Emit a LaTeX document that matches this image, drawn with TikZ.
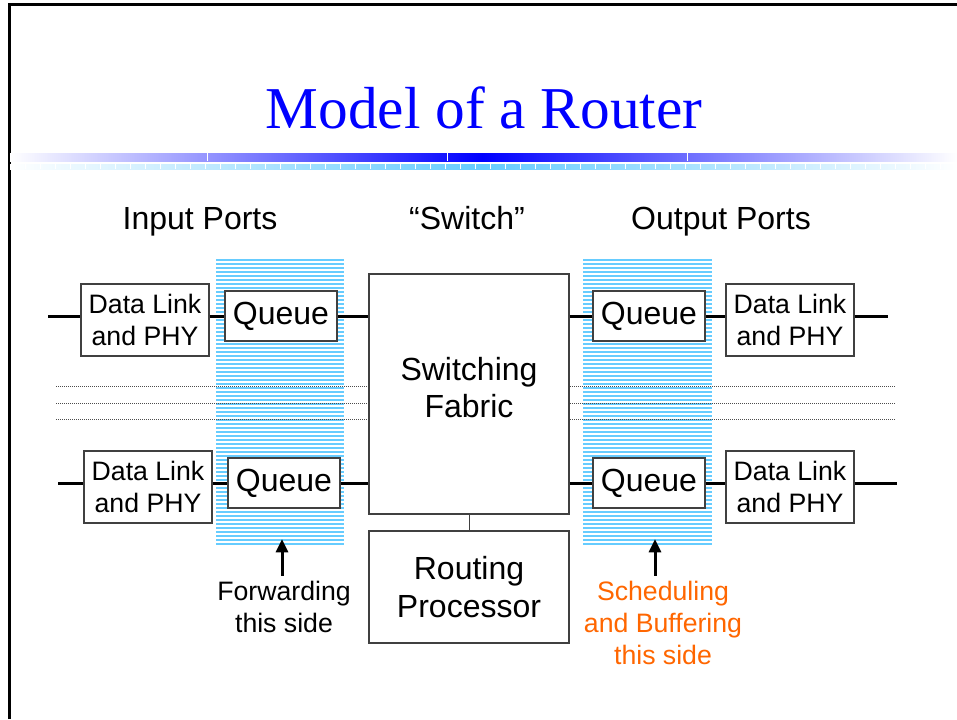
\documentclass[tikz,border=0pt]{standalone}
\usepackage{fontspec}
\setmainfont{Liberation Sans}
\newfontfamily\titlefont{Liberation Serif}
\usetikzlibrary{arrows.meta}
\definecolor{titleblue}{RGB}{0,0,255}
\definecolor{stripeblue}{RGB}{102,204,255}
\definecolor{noteorange}{RGB}{255,102,0}

\tikzset{
  box/.style={draw=black!75, line width=1.1pt, fill=white, inner sep=0pt},
  linkbox/.style={box, minimum width=96pt, minimum height=54pt, align=center,
    font=\fontsize{20}{24}\selectfont},
  queuebox/.style={box, minimum width=84pt, minimum height=37.5pt,
    font=\fontsize{24}{28}\selectfont},
  bigbox/.style={box, minimum width=150pt, align=center,
    font=\fontsize{24}{28}\selectfont},
  wire/.style={line width=2.25pt},
  header/.style={anchor=base, font=\fontsize{24}{28}\selectfont},
  note/.style={align=center, font=\fontsize{20}{24}\selectfont},
  stripe/.style={stripeblue, line width=0.9pt},
  uparrow/.style={line width=2.25pt, -{Triangle[width=9pt,length=10pt]}}
}

\begin{document}
\begin{tikzpicture}[x=0.75pt, y=-0.75pt]
\useasboundingbox (0,0) rectangle (957,719);

% slide frame
\draw[line width=2.25pt] (9,719) -- (9,4) -- (957,4);

% title and the bars under it
\node[anchor=base, titleblue, font=\titlefont\fontsize{44.5}{50}\selectfont] (title) at (484,128) {Model of a Router};
\shade[left color=white, right color=titleblue] (10,153) rectangle (482,161);
\shade[left color=titleblue, right color=white] (482,153) rectangle (957,161);
\foreach \x in {207,447,687}
  \draw[white, line width=0.6pt] (\x,153) -- (\x,161);
\shade[left color=white, right color=stripeblue] (10,164) rectangle (482,169);
\shade[left color=stripeblue, right color=white] (482,164) rectangle (957,169);
\foreach \x in {25,40,...,950}
  \draw[white, line width=0.4pt] (\x,164) -- (\x,169);

% column headers
\node[header] (inhead) at (200,229) {Input Ports};
\node[header] (swhead) at (467,229) {``Switch''};
\node[header] (outhead) at (721,229) {Output Ports};

% striped queue areas
\foreach \y in {260,264,...,546} {
  \draw[stripe] (216,\y) -- (344,\y);
  \draw[stripe] (583,\y) -- (712,\y);
}

% dotted lines between the port rows
\foreach \y in {386,403,419}
  \draw[densely dotted, black!70, line width=0.5pt] (56,\y) -- (896,\y);

% switch
\node[bigbox, minimum height=180pt, text depth=10pt] (fab) at (469,394) {Switching\\Fabric};
\node[bigbox, minimum height=84pt] (rp) at (469,587) {Routing\\Processor};
\draw[black!75, line width=0.75pt] (fab.south) -- (rp.north);

% input ports
\node[linkbox] (inlink1) at (145,320) {Data Link\\and PHY};
\node[queuebox] (inq1) at (281,316) {Queue};
\node[linkbox] (inlink2) at (148,487) {Data Link\\and PHY};
\node[queuebox] (inq2) at (284,483) {Queue};
\coordinate (in1) at (48,316);
\coordinate (in2) at (58,483);

% output ports
\node[queuebox] (outq1) at (649,316) {Queue};
\node[linkbox] (outlink1) at (790,320) {Data Link\\and PHY};
\node[queuebox] (outq2) at (649,483) {Queue};
\node[linkbox] (outlink2) at (790,487) {Data Link\\and PHY};
\coordinate (out1) at (888,316);
\coordinate (out2) at (897,483);

% wires
\draw[wire] (in1) -- (in1 -| inlink1.west);
\draw[wire] (inq1.west -| inlink1.east) -- (inq1.west);
\draw[wire] (inq1.east) -- (inq1.east -| fab.west);
\draw[wire] (in2) -- (in2 -| inlink2.west);
\draw[wire] (inq2.west -| inlink2.east) -- (inq2.west);
\draw[wire] (inq2.east) -- (inq2.east -| fab.west);
\draw[wire] (outq1.west -| fab.east) -- (outq1.west);
\draw[wire] (outq1.east) -- (outq1.east -| outlink1.west);
\draw[wire] (out1 -| outlink1.east) -- (out1);
\draw[wire] (outq2.west -| fab.east) -- (outq2.west);
\draw[wire] (outq2.east) -- (outq2.east -| outlink2.west);
\draw[wire] (out2 -| outlink2.east) -- (out2);

% notes
\node[note] (fwd) at (284,607) {Forwarding\\this side};
\node[note, noteorange] (sched) at (663,623) {Scheduling\\and Buffering\\this side};
\coordinate (fwdtip) at (282,539);
\coordinate (schedtip) at (655,539);
\draw[uparrow] (fwd.north -| fwdtip) ++(0,-1) -- (fwdtip);
\draw[uparrow] (sched.north -| schedtip) ++(0,-1) -- (schedtip);
\end{tikzpicture}
\end{document}
